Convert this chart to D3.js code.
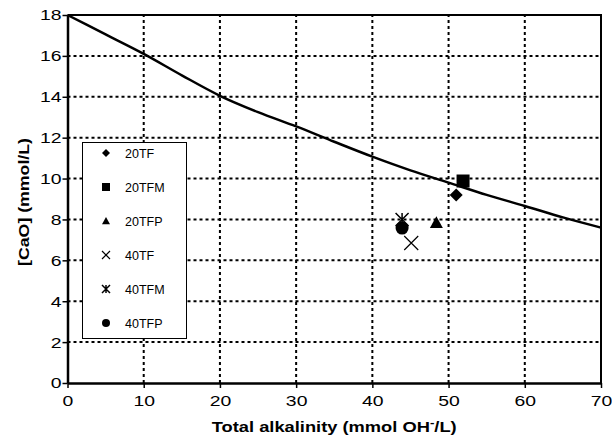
<!DOCTYPE html>
<html>
<head>
<meta charset="utf-8">
<script src="https://cdn.jsdelivr.net/npm/d3@7"></script>
<style>
  body { margin: 0; background: #fff; }
  text { font-family: "Liberation Sans", Arial, sans-serif; }
</style>
</head>
<body>
<svg id="drawing_region"></svg>
<script>
// fitted curve
const curveX = [0, 5, 10, 15, 20, 25, 30, 35, 40, 45, 50, 55, 60, 65, 70];
const curveY = [18.0, 17.05, 16.1, 15.05, 14.05, 13.25, 12.55, 11.8, 11.07, 10.4, 9.8, 9.2, 8.66, 8.1, 7.6];

// measured points
const seriesNames = ['20TF', '20TFM', '20TFP', '40TF', '40TFM', '40TFP'];
const seriesX = [51.0, 51.9, 48.4, 45.1, 43.9, 43.9];
const seriesY = [9.2, 9.88, 7.84, 6.85, 8.0, 7.58];
const seriesSymbols = ['diamond', 'square', 'triangle', 'cross', 'asterisk', 'circle'];

const xTicks = [0, 10, 20, 30, 40, 50, 60, 70];
const yTicks = [0, 2, 4, 6, 8, 10, 12, 14, 16, 18];

const width = 612, height = 440;
const margin = { left: 67.5, right: 11, top: 15, bottom: 57 };

const svg = d3.select('#drawing_region')
    .attr('width', width)
    .attr('height', height);

const xscale = d3.scaleLinear().domain([0, 70]).range([margin.left, width - margin.right]);
const yscale = d3.scaleLinear().domain([0, 18]).range([height - margin.bottom, margin.top]);

// widen glyphs a bit, the original font is broader
function stretch(sel, k) {
    sel.each(function() {
        const len = this.getComputedTextLength();
        d3.select(this).attr('textLength', len * k).attr('lengthAdjust', 'spacingAndGlyphs');
    });
}

// grid
svg.append('g').selectAll('line')
    .data(xTicks.slice(1, -1))
    .join('line')
    .attr('x1', d => xscale(d)).attr('x2', d => xscale(d))
    .attr('y1', yscale(0)).attr('y2', yscale(18))
    .attr('stroke', 'black').attr('stroke-width', 2).attr('stroke-dasharray', '3,3');

svg.append('g').selectAll('line')
    .data(yTicks.slice(1, -1))
    .join('line')
    .attr('x1', xscale(0)).attr('x2', xscale(70))
    .attr('y1', d => yscale(d)).attr('y2', d => yscale(d))
    .attr('stroke', 'black').attr('stroke-width', 2).attr('stroke-dasharray', '3,3');

// border top / right
svg.append('path')
    .attr('d', `M${xscale(0)},${yscale(18)}H${xscale(70)}V${yscale(0)}`)
    .attr('fill', 'none').attr('stroke', 'black').attr('stroke-width', 2);

// axes
const xAxis = svg.append('g')
    .attr('transform', `translate(0,${yscale(0)})`)
    .call(d3.axisBottom(xscale).tickValues(xTicks).tickSize(5).tickSizeOuter(0));
const yAxis = svg.append('g')
    .attr('transform', `translate(${xscale(0)},0)`)
    .call(d3.axisLeft(yscale).tickValues(yTicks).tickSize(5).tickSizeOuter(0));

[xAxis, yAxis].forEach(ax => {
    ax.select('.domain').attr('stroke', 'black').attr('stroke-width', 2.5);
    ax.selectAll('.tick line').attr('stroke', 'black').attr('stroke-width', 1.5);
    ax.selectAll('.tick text')
        .attr('fill', 'black')
        .style('font-size', '15.5px')
        .style('font-family', '"Liberation Sans", Arial, sans-serif');
    stretch(ax.selectAll('.tick text'), 1.25);
});
xAxis.selectAll('.tick text').attr('y', 12);
yAxis.selectAll('.tick text').attr('x', -6);

// curve
const line = d3.line()
    .x(i => xscale(curveX[i]))
    .y(i => yscale(curveY[i]))
    .curve(d3.curveMonotoneX);
svg.append('path')
    .attr('d', line(d3.range(curveX.length)))
    .attr('fill', 'none')
    .attr('stroke', 'black')
    .attr('stroke-width', 2.5);

// markers
function drawSymbol(g, kind, s) {
    const h = s / 2;
    if (kind === 'diamond') {
        g.append('path').attr('d', `M0,${-h}L${h},0L0,${h}L${-h},0Z`).attr('fill', 'black');
    } else if (kind === 'square') {
        g.append('rect').attr('x', -h).attr('y', -h).attr('width', s).attr('height', s).attr('fill', 'black');
    } else if (kind === 'triangle') {
        g.append('path').attr('d', `M0,${-h}L${h},${h * 0.8}L${-h},${h * 0.8}Z`).attr('fill', 'black');
    } else if (kind === 'cross') {
        g.append('path').attr('d', `M${-h},${-h}L${h},${h}M${h},${-h}L${-h},${h}`)
            .attr('stroke', 'black').attr('stroke-width', 1.2);
    } else if (kind === 'asterisk') {
        g.append('path').attr('d', `M${-h},${-h}L${h},${h}M${h},${-h}L${-h},${h}M0,${-h}V${h}`)
            .attr('stroke', 'black').attr('stroke-width', 1.5);
    } else if (kind === 'circle') {
        g.append('circle').attr('r', h).attr('fill', 'black');
    }
}

const points = svg.append('g');
seriesNames.forEach((name, i) => {
    const g = points.append('g')
        .attr('transform', `translate(${xscale(seriesX[i])},${yscale(seriesY[i])})`);
    drawSymbol(g, seriesSymbols[i], seriesSymbols[i] === 'cross' ? 14 : 13);
});

// legend
const legend = svg.append('g');
legend.append('rect')
    .attr('x', 82.5).attr('y', 142.5).attr('width', 104).attr('height', 196)
    .attr('fill', 'white').attr('stroke', 'black').attr('stroke-width', 1);
seriesNames.forEach((name, i) => {
    const y = 153 + i * 34;
    const g = legend.append('g').attr('transform', `translate(106,${y})`);
    drawSymbol(g, seriesSymbols[i], 8);
    legend.append('text')
        .attr('x', 125).attr('y', y + 4.5)
        .style('font-size', '12.5px')
        .text(name);
});

// axis titles
const xt = svg.append('text')
    .attr('x', (xscale(0) + xscale(70)) / 2)
    .attr('y', 432)
    .attr('text-anchor', 'middle')
    .style('font-size', '15px')
    .style('font-weight', 'bold');
xt.append('tspan').text('Total alkalinity (mmol OH');
xt.append('tspan').attr('dy', -6).style('font-size', '11px').text('-');
xt.append('tspan').attr('dy', 6).text('/L)');
xt.attr('transform', `translate(${(xscale(0) + xscale(70)) / 2},0) scale(1.22,1) translate(${-(xscale(0) + xscale(70)) / 2},0)`);

const yt = svg.append('text')
    .attr('transform', `translate(29,${(yscale(0) + yscale(18)) / 2 + 3}) rotate(-90)`)
    .attr('text-anchor', 'middle')
    .style('font-size', '15px')
    .style('font-weight', 'bold')
    .text('[CaO] (mmol/L)');
stretch(yt, 1.18);
</script>
</body>
</html>
